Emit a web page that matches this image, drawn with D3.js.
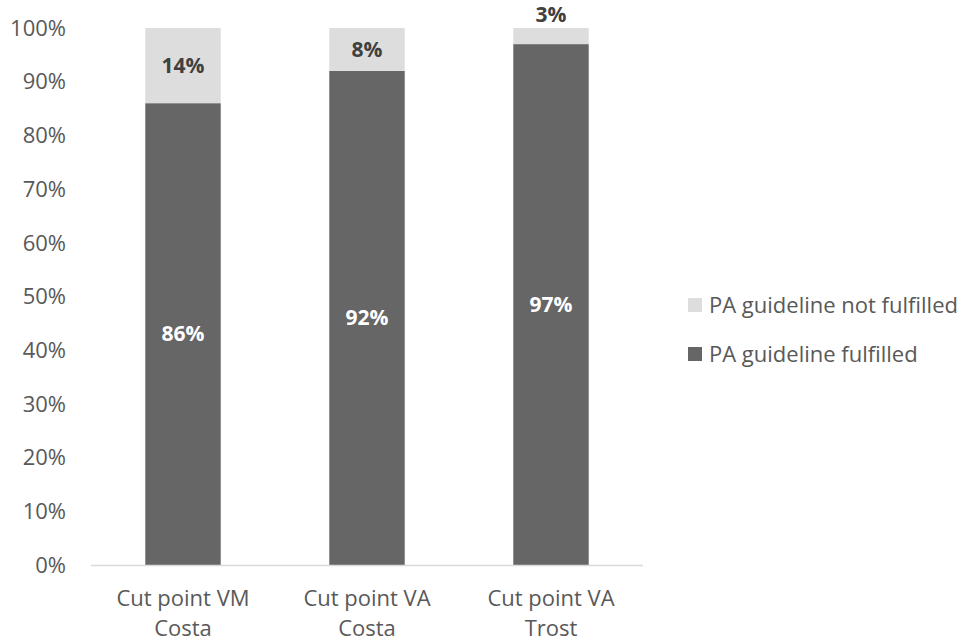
<!DOCTYPE html>
<html><head><meta charset="utf-8">
<script src="https://cdn.jsdelivr.net/npm/d3@7"></script>
<style>body{margin:0;background:#fff}svg{display:block}text{font-family:"Open Sans",sans-serif}</style>
</head><body><svg id="c" width="967" height="641"></svg>
<script>
const categories = [["Cut point VM","Costa"],["Cut point VA","Costa"],["Cut point VA","Trost"]];
const fulfilled = [86, 92, 97];
const notFulfilled = [14, 8, 3];
const yTicks = [0,10,20,30,40,50,60,70,80,90,100];
const seriesNames = ["PA guideline not fulfilled","PA guideline fulfilled"];
const colors = {dark:"#666666", light:"#dddddd"};

const svg = d3.select("#c");
const x = d3.scaleBand().domain(d3.range(categories.length)).range([91,643]).paddingInner(0.59).paddingOuter(0.295);
const y = d3.scaleLinear().domain([0,100]).range([565,28]);

svg.append("g").selectAll("text").data(yTicks).join("text")
  .attr("x",66).attr("y",d=>y(d)).attr("dy","0.35em").attr("text-anchor","end")
  .attr("font-size",22).attr("fill","#595959").text(d=>d+"%");

const g = svg.append("g");
categories.forEach((c,i)=>{
  const x0 = x(i), w = x.bandwidth();
  g.append("rect").attr("x",x0).attr("width",w).attr("y",y(fulfilled[i])).attr("height",y(0)-y(fulfilled[i])).attr("fill",colors.dark);
  g.append("rect").attr("x",x0).attr("width",w).attr("y",y(fulfilled[i]+notFulfilled[i])).attr("height",y(fulfilled[i])-y(fulfilled[i]+notFulfilled[i])).attr("fill",colors.light);
  g.append("text").attr("x",x0+w/2).attr("y",(y(0)+y(fulfilled[i]))/2).attr("dy","0.35em").attr("text-anchor","middle")
    .attr("font-size",21).attr("font-weight","bold").attr("fill","#ffffff").text(fulfilled[i]+"%");
  const small = notFulfilled[i] < 5;
  const ly = small ? y(fulfilled[i]+notFulfilled[i]) - 13 : (y(fulfilled[i])+y(fulfilled[i]+notFulfilled[i]))/2;
  g.append("text").attr("x",x0+w/2).attr("y",ly).attr("dy","0.35em").attr("text-anchor","middle")
    .attr("font-size",21).attr("font-weight","bold").attr("fill","#404040").text(notFulfilled[i]+"%");
});

svg.append("line").attr("x1",91).attr("x2",643).attr("y1",565.5).attr("y2",565.5).attr("stroke","#d9d9d9").attr("stroke-width",1.5);

categories.forEach((c,i)=>{
  const t = svg.append("text").attr("text-anchor","middle").attr("font-size",22).attr("fill","#595959");
  c.forEach((line,j)=>t.append("tspan").attr("x",x(i)+x.bandwidth()/2).attr("y",606+j*30).text(line));
});

const leg = svg.append("g");
[colors.light, colors.dark].forEach((col,j)=>{
  leg.append("rect").attr("x",688).attr("y",298+j*49).attr("width",14).attr("height",14).attr("fill",col);
  leg.append("text").attr("x",709).attr("y",305+j*49).attr("dy","0.35em").attr("font-size",22).attr("fill","#595959").text(seriesNames[j]);
});
</script></body></html>
